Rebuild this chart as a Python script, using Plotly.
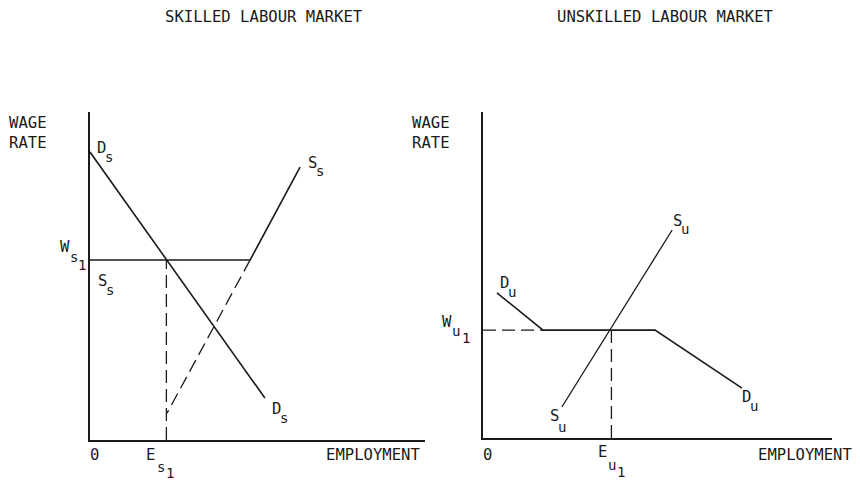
import plotly.graph_objects as go

# ---- Skilled labour market (units on a 0-10 scale) ----
skilled_demand_x = [0.0, 5.22]
skilled_demand_y = [8.78, 1.28]
skilled_supply_x = [0.0, 4.78, 6.27]
skilled_supply_y = [5.49, 5.49, 8.32]
skilled_supply_ext_x = [4.78, 2.30]
skilled_supply_ext_y = [5.49, 0.82]
skilled_wage = 5.49
skilled_employment = 2.28

# ---- Unskilled labour market ----
unskilled_demand_x = [0.40, 1.72, 4.93, 7.42]
unskilled_demand_y = [4.45, 3.31, 3.31, 1.53]
unskilled_supply_x = [2.26, 5.42]
unskilled_supply_y = [0.95, 6.38]
unskilled_wage = 3.31
unskilled_employment = 3.68

titles = ["SKILLED LABOUR MARKET", "UNSKILLED LABOUR MARKET"]
axis_labels = ["WAGE<br>RATE", "EMPLOYMENT", "0"]

FONT = "DejaVu Sans Mono"
INK = "#1a1a1a"
LW = 1.6
DASH = "13px,6px"
W, H = 860, 480
OFF = 8  # page body margin


def px(x):
    return (x - OFF) / W


def py(y):
    return 1 - (y - OFF) / H


fig = go.Figure()


def line(x, y, xa, ya, dash="solid", w=LW):
    fig.add_trace(go.Scatter(x=x, y=y, xaxis=xa, yaxis=ya, mode="lines",
                             line=dict(color=INK, width=w, dash=dash),
                             showlegend=False, hoverinfo="skip"))


# skilled
line(skilled_demand_x, skilled_demand_y, "x", "y")
line(skilled_supply_x, skilled_supply_y, "x", "y")
line(skilled_supply_ext_x, skilled_supply_ext_y, "x", "y", dash=DASH, w=1.3)
line([skilled_employment, skilled_employment], [0, skilled_wage], "x", "y", dash=DASH, w=1.3)

# unskilled
line(unskilled_demand_x, unskilled_demand_y, "x2", "y2")
line(unskilled_supply_x, unskilled_supply_y, "x2", "y2", w=1.3)
line([0, unskilled_demand_x[1]], [unskilled_wage, unskilled_wage], "x2", "y2", dash=DASH, w=1.3)
line([unskilled_employment, unskilled_employment], [0, unskilled_wage], "x2", "y2", dash=DASH, w=1.3)

ann = []


def txt(text, x, y, xanchor="left", yanchor="middle", size=15.6, align="left"):
    ann.append(dict(text=text, x=px(x), y=py(y), xref="paper", yref="paper",
                    showarrow=False, xanchor=xanchor, yanchor=yanchor, align=align,
                    borderpad=0, font=dict(family=FONT, size=size, color=INK)))


def label(main, sub, x, y, sub2=None, dx=8, dy=9, dx2=16.5, dy2=16):
    txt(main, x, y)
    txt(sub, x + dx, y + dy, size=14)
    if sub2:
        txt(sub2, x + dx2, y + dy2, size=14)


# titles
txt(titles[0], 263.5, 17, xanchor="center")
txt(titles[1], 665, 17, xanchor="center")

# skilled panel labels
txt(axis_labels[0], 8, 113, yanchor="top")
label("D", "s", 96, 148)
label("S", "s", 307, 163, dy=8)
label("S", "s", 97, 281)
label("D", "s", 271, 409)
label("W", "s", 59, 247, sub2="1", dx=10, dy=10, dx2=18, dy2=18)
txt(axis_labels[2], 94, 455, xanchor="center")
label("E", "s", 145, 455, sub2="1", dx=11, dy=12, dx2=20, dy2=18)
txt(axis_labels[1], 421, 455, xanchor="right")

# unskilled panel labels
txt(axis_labels[0], 411, 113, yanchor="top")
label("D", "u", 499, 283)
label("D", "u", 741, 397)
label("S", "u", 672, 221, dy=8)
label("S", "u", 549, 416, dy=11)
label("W", "u", 441, 322, sub2="1", dx=10, dy=9, dx2=20, dy2=16)
txt(axis_labels[2], 487, 455, xanchor="center")
label("E", "u", 597, 452, sub2="1", dx=9.5, dy=13, dx2=19, dy2=20)
txt(axis_labels[1], 853, 455, xanchor="right")

ax_common = dict(range=[0, 10], showgrid=False, zeroline=False, showticklabels=False,
                 ticks="", showline=True, linecolor=INK, linewidth=1.8, fixedrange=True)

fig.update_layout(
    width=W, height=H,
    margin=dict(l=0, r=0, t=0, b=0),
    paper_bgcolor="white", plot_bgcolor="white",
    showlegend=False,
    annotations=ann,
    xaxis=dict(domain=[px(90), px(425)], anchor="y", **ax_common),
    yaxis=dict(domain=[py(440), py(112)], anchor="x", **ax_common),
    xaxis2=dict(domain=[px(483), px(832)], anchor="y2", **ax_common),
    yaxis2=dict(domain=[py(438), py(112)], anchor="x2", **ax_common),
)

fig.write_html("out.html")
